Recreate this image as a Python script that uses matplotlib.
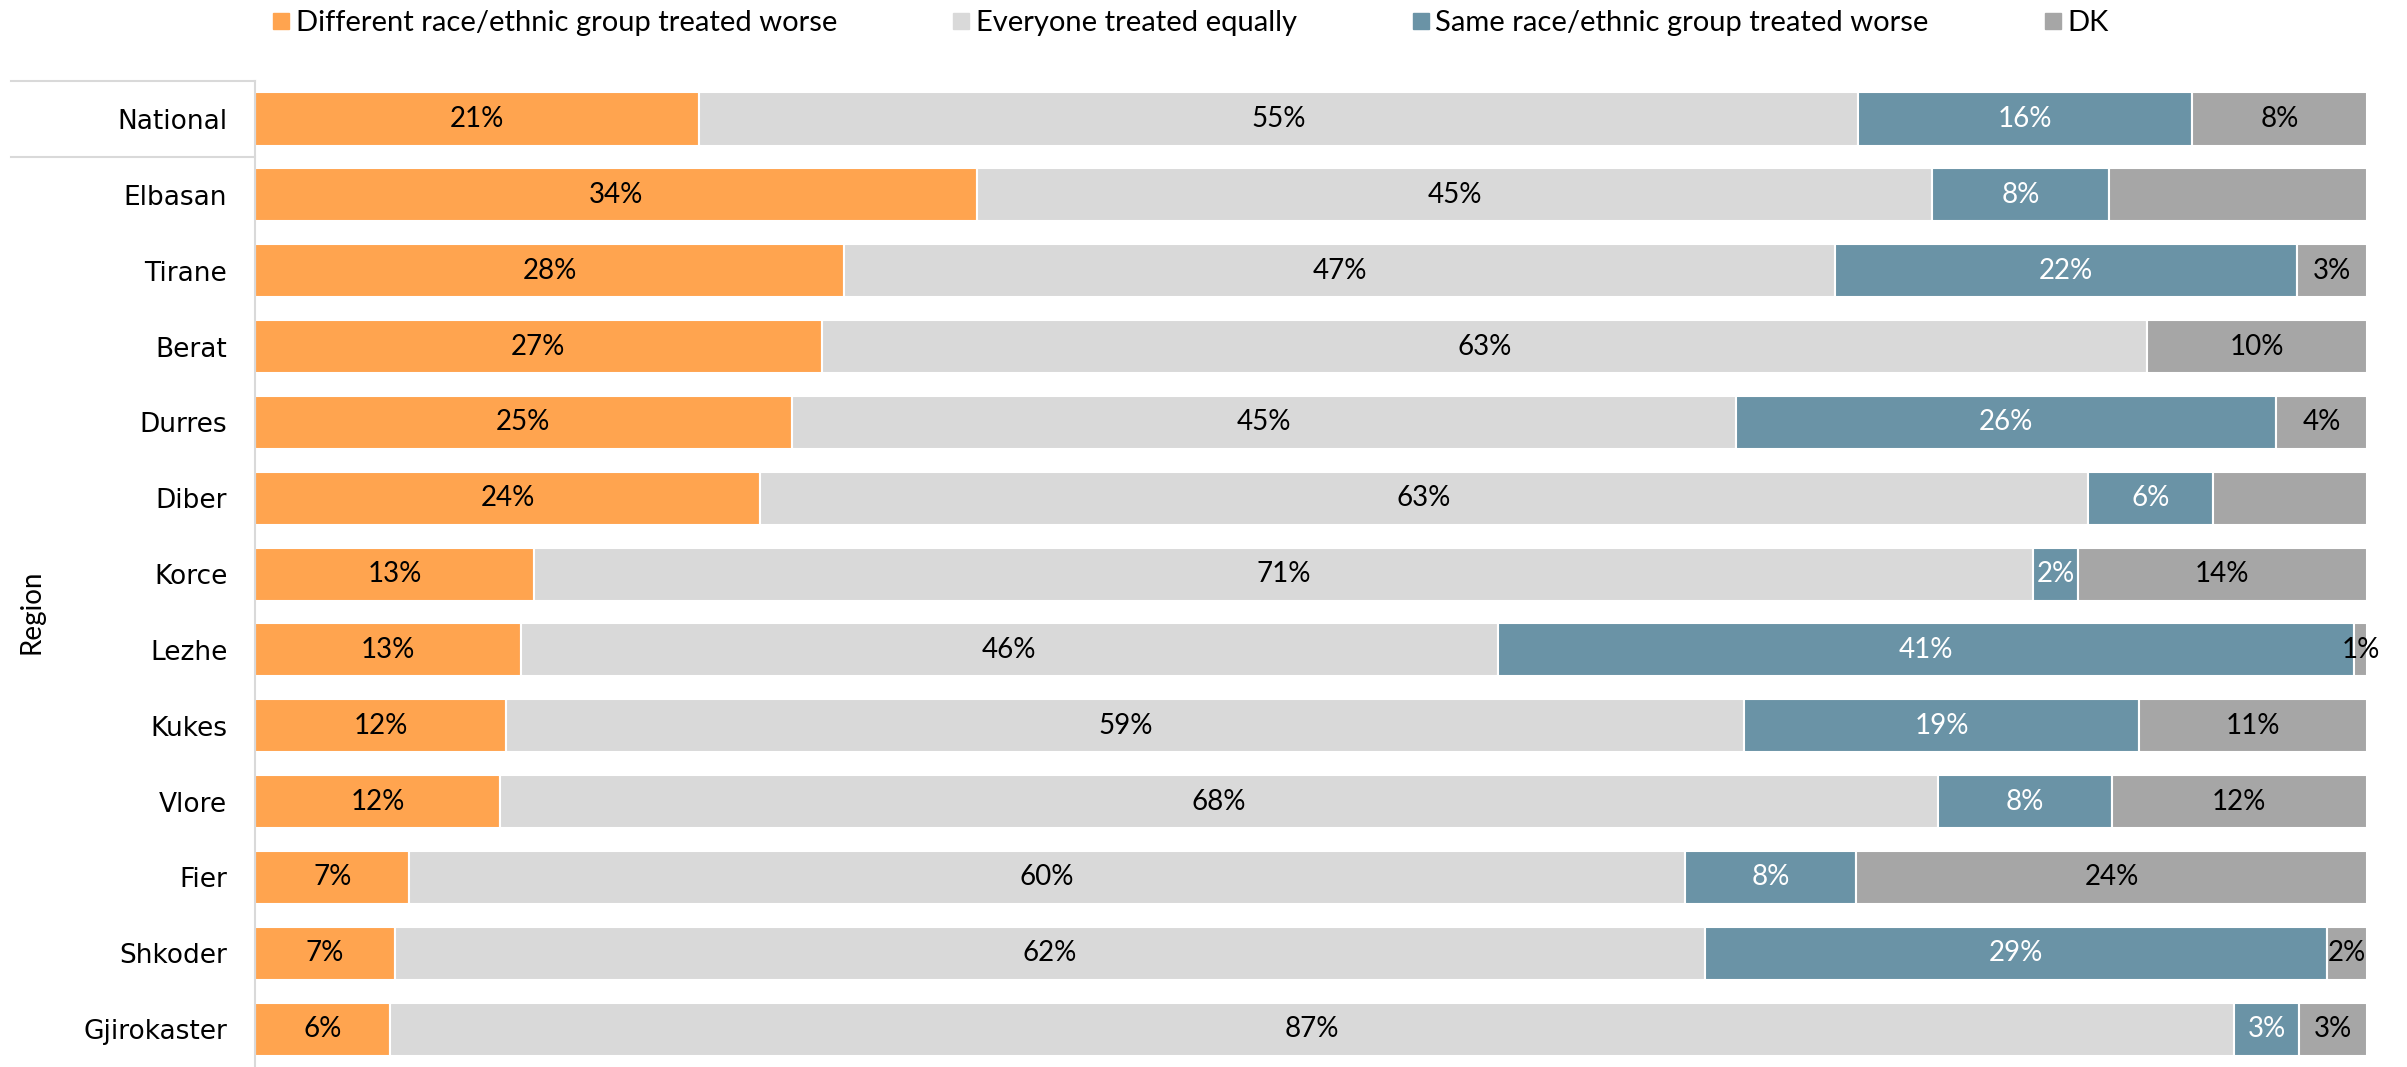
import matplotlib.pyplot as plt
from matplotlib.lines import Line2D
import matplotlib.transforms as mtransforms
import numpy as np

# data (percent; labels show them rounded)
regions = ["National", "Elbasan", "Tirane", "Berat", "Durres", "Diber", "Korce",
           "Lezhe", "Kukes", "Vlore", "Fier", "Shkoder", "Gjirokaster"]
different_worse = [21.0, 34.2, 27.9, 26.8, 25.4, 23.9, 13.2, 12.6, 11.9, 11.6, 7.3, 6.6, 6.4]
equal = [54.9, 45.2, 46.9, 62.7, 44.7, 62.9, 71.0, 46.3, 58.6, 68.1, 60.4, 62.0, 87.2]
same_worse = [15.8, 8.4, 21.9, 0.0, 25.6, 5.9, 2.1, 40.6, 18.7, 8.2, 8.1, 29.4, 3.1]
dk = [8.3, 12.2, 3.3, 10.4, 4.3, 7.3, 13.7, 0.6, 10.8, 12.1, 24.2, 1.9, 3.2]
# DK label not shown on these rows in the original
dk_hidden = ["Elbasan", "Diber"]

series_names = ["Different race/ethnic group treated worse", "Everyone treated equally",
                "Same race/ethnic group treated worse", "DK"]
colors = ["#FFA44F", "#D9D9D9", "#6A93A6", "#A6A6A6"]
label_colors = ["black", "black", "white", "black"]

body_font = "Lato"

fig = plt.figure(figsize=(24.07, 10.67), dpi=100)
ax = fig.add_axes([0.106, 0.0, 0.8774, 0.924])

values = np.array([different_worse, equal, same_worse, dk], dtype=float)
totals = values.sum(axis=0)
shares = values / totals  # 100% stacked like excel
y = np.arange(len(regions))

left = np.zeros(len(regions))
for k in range(4):
    ax.barh(y, shares[k], left=left, height=0.7, color=colors[k],
            edgecolor="white", linewidth=1.5)
    for i in range(len(regions)):
        v = values[k, i]
        if v == 0:
            continue
        if k == 3 and regions[i] in dk_hidden:
            continue
        ax.text(left[i] + shares[k, i] / 2, y[i], f"{v:.0f}%", ha="center", va="center",
                fontsize=20, color=label_colors[k], family=body_font)
    left += shares[k]

ax.set_xlim(0, 1)
ax.set_ylim(len(regions) - 0.5, -0.5)
ax.set_xticks([])
ax.set_yticks(y)
ax.set_yticklabels(regions, fontsize=19, family="DejaVu Sans")
ax.tick_params(axis="y", length=0, pad=20)
for s in ["top", "right", "bottom"]:
    ax.spines[s].set_visible(False)
ax.spines["left"].set_color("#D9D9D9")
ax.spines["left"].set_linewidth(1.5)

# multi-level category lines on the left
trans = mtransforms.blended_transform_factory(ax.transAxes, ax.transData)
for yy in [-0.5, 0.5]:
    ax.plot([-0.1155, 0], [yy, yy], color="#D9D9D9", linewidth=1.5,
            transform=trans, clip_on=False)

ax.text(-0.106, 6.5, "Region", rotation=90, ha="center", va="center",
        fontsize=20, family=body_font, transform=trans)

handles = [Line2D([], [], marker="s", linestyle="none", markersize=12,
                  markerfacecolor=c, markeredgecolor=c) for c in colors]
fig.legend(handles, series_names, loc="center", bbox_to_anchor=(0.494, 0.978), ncol=4,
           frameon=False, prop={"family": body_font, "size": 21},
           handletextpad=0.1, columnspacing=3.85, handlelength=0.8)

fig.savefig("out.png")
